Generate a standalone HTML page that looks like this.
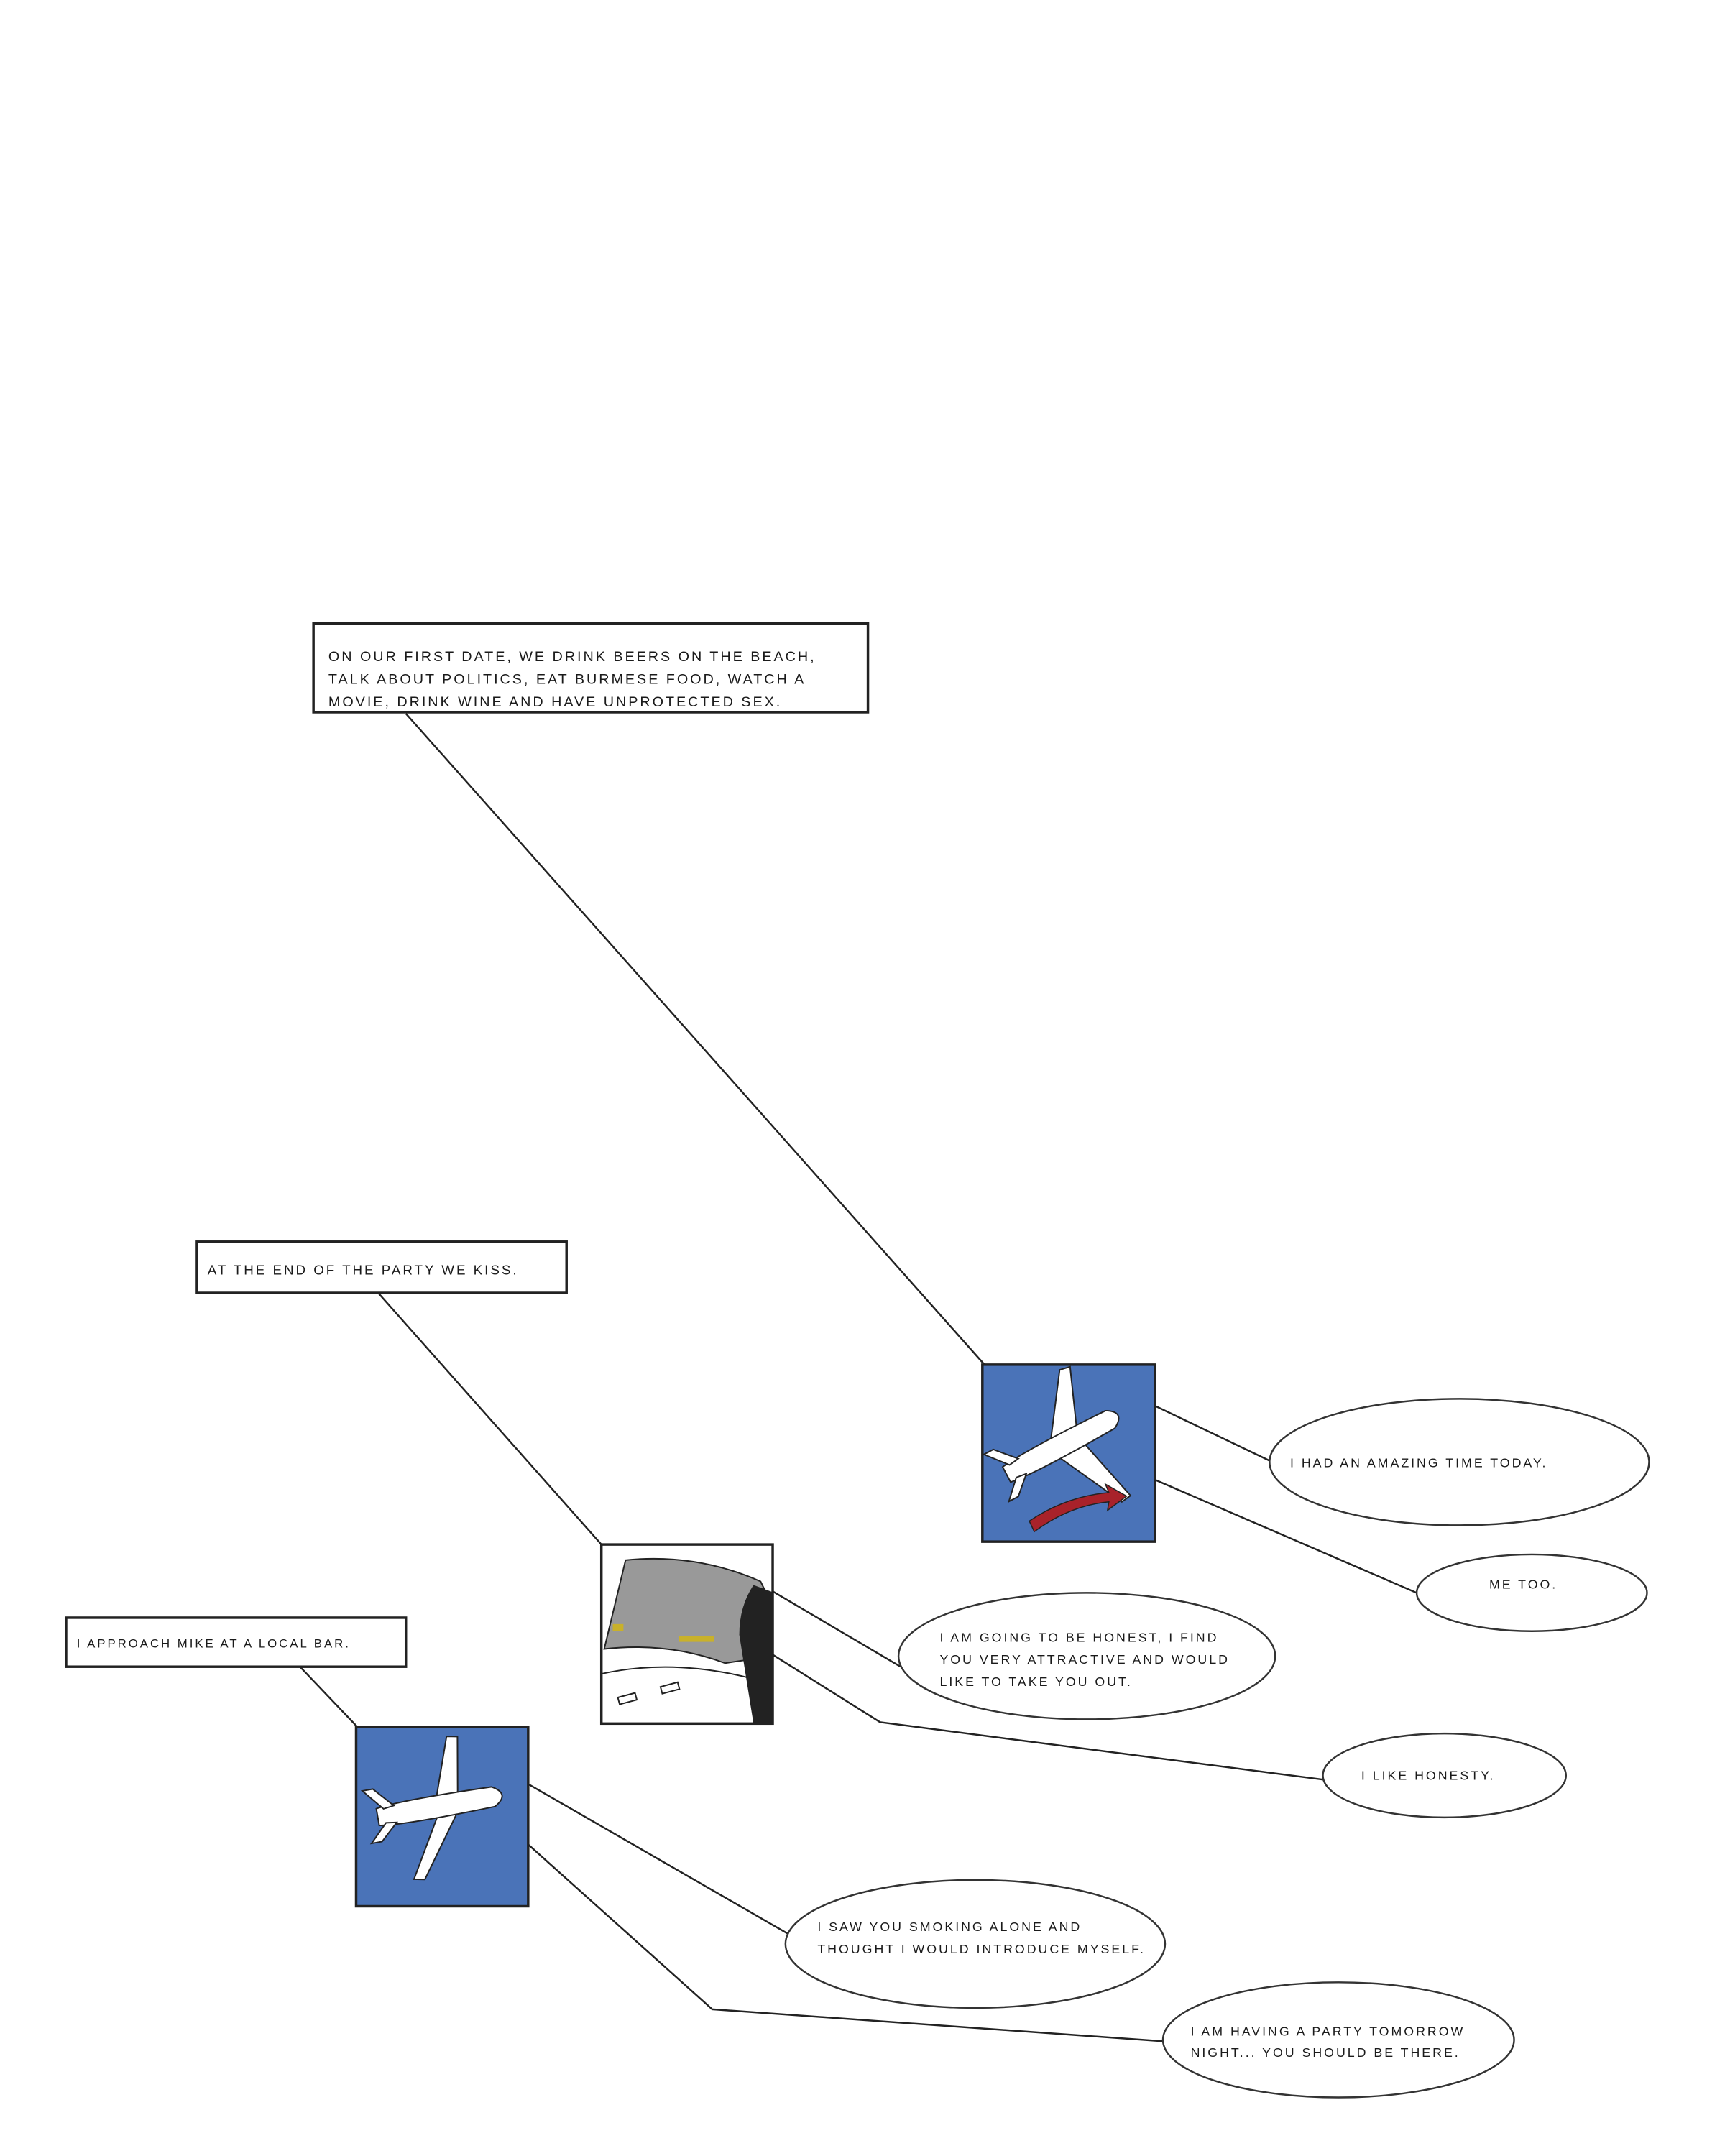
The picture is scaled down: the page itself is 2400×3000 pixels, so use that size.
<!DOCTYPE html>
<html><head><meta charset="utf-8"><style>
html,body{margin:0;padding:0;background:#fff;}
svg{display:block;}
text{font-family:"Liberation Sans",sans-serif;fill:#1a1a1a;letter-spacing:3px;}
</style></head><body>
<svg width="2400" height="3000" viewBox="0 0 2400 3000" xmlns="http://www.w3.org/2000/svg">
<g transform="scale(0.989)">
<g stroke="#222" fill="none" stroke-width="2.5">
<line x1="571" y1="1004" x2="1385" y2="1920"/>
<line x1="532" y1="1819" x2="846" y2="2173"/>
<line x1="422" y1="2345" x2="503" y2="2430"/>
<line x1="1625" y1="1978" x2="1790" y2="2057"/>
<line x1="1625" y1="2082" x2="1993" y2="2241"/>
<line x1="1087" y1="2239" x2="1267" y2="2345"/>
<polyline points="1087,2328 1238,2423 1863,2504"/>
<line x1="743" y1="2510" x2="1109" y2="2721"/>
<polyline points="743,2595 1002,2827 1637,2872"/>
</g>
<g stroke="#222" stroke-width="3.5" fill="#fff">
<rect x="441" y="877" width="780" height="125"/>
<rect x="277" y="1747" width="520" height="72"/>
<rect x="93" y="2276" width="478" height="69"/>
</g>
<text font-size="20"><tspan x="462" y="930">ON OUR FIRST DATE, WE DRINK BEERS ON THE BEACH,</tspan><tspan x="462" y="962">TALK ABOUT POLITICS, EAT BURMESE FOOD, WATCH A</tspan><tspan x="462" y="994">MOVIE, DRINK WINE AND HAVE UNPROTECTED SEX.</tspan></text>
<text font-size="19" x="292" y="1793">AT THE END OF THE PARTY WE KISS.</text>
<text font-size="17" x="108" y="2318">I APPROACH MIKE AT A LOCAL BAR.</text>
<g stroke="#333" stroke-width="2.5" fill="#fff">
<ellipse cx="2053" cy="2057" rx="267" ry="89"/>
<ellipse cx="2155" cy="2241" rx="162" ry="54"/>
<ellipse cx="1529" cy="2330" rx="265" ry="89"/>
<ellipse cx="2032" cy="2498" rx="171" ry="59"/>
<ellipse cx="1372" cy="2735" rx="267" ry="90"/>
<ellipse cx="1883" cy="2870" rx="247" ry="81"/>
</g>
<g font-size="18">
<text x="1815" y="2064">I HAD AN AMAZING TIME TODAY.</text>
<text x="2095" y="2235">ME TOO.</text>
<text x="1322" y="2310">I AM GOING TO BE HONEST, I FIND</text>
<text x="1322" y="2341">YOU VERY ATTRACTIVE AND WOULD</text>
<text x="1322" y="2372">LIKE TO TAKE YOU OUT.</text>
<text x="1915" y="2504">I LIKE HONESTY.</text>
<text x="1150" y="2717">I SAW YOU SMOKING ALONE AND</text>
<text x="1150" y="2748">THOUGHT I WOULD INTRODUCE MYSELF.</text>
<text x="1675" y="2864">I AM HAVING A PARTY TOMORROW</text>
<text x="1675" y="2894">NIGHT... YOU SHOULD BE THERE.</text>
</g>
<rect x="1382" y="1920" width="243" height="249" fill="#4a73b8" stroke="#222" stroke-width="3.5"/>
<g transform="translate(1500,2030) rotate(-28)">
<path d="M-20,-10 L40,-95 L55,-92 L20,-5Z M-20,10 L30,110 L45,108 L20,5Z" fill="#fff" stroke="#222" stroke-width="2"/>
<path d="M-95,-12 Q-60,-18 70,-14 Q95,0 70,14 Q-60,18 -95,12Z" fill="#fff" stroke="#222" stroke-width="2"/>
<path d="M-85,-10 L-110,-40 L-95,-40 L-70,-12Z M-85,10 L-110,35 L-95,35 L-70,12Z" fill="#fff" stroke="#222" stroke-width="2"/>
</g>
<path d="M1448,2140 Q1500,2105 1560,2100 L1555,2088 L1585,2105 L1558,2125 L1560,2113 Q1505,2118 1455,2155Z" fill="#a8222a" stroke="#222" stroke-width="1.5"/>
<rect x="846" y="2173" width="241" height="252" fill="#fff" stroke="#222" stroke-width="3.5"/>
<path d="M880,2195 Q980,2185 1070,2225 L1087,2260 L1087,2330 L1020,2340 Q940,2310 850,2320 Z" fill="#999" stroke="#222" stroke-width="2"/>
<path d="M846,2355 Q960,2330 1087,2370" stroke="#222" fill="none" stroke-width="2"/>
<rect x="862" y="2285" width="15" height="10" fill="#c9b12a"/><rect x="955" y="2302" width="50" height="8" fill="#c9b12a"/>
<rect x="870" y="2385" width="25" height="10" fill="none" stroke="#222" stroke-width="2" transform="rotate(-15 882 2390)"/>
<rect x="930" y="2370" width="25" height="10" fill="none" stroke="#222" stroke-width="2" transform="rotate(-15 942 2375)"/>
<path d="M1060,2230 L1087,2240 L1087,2425 L1060,2425 L1040,2300 Q1040,2260 1060,2230Z" fill="#222"/>
<rect x="501" y="2430" width="242" height="252" fill="#4a73b8" stroke="#222" stroke-width="3.5"/>
<g transform="translate(625,2540) rotate(-10)">
<path d="M-10,-10 L20,-95 L35,-92 L20,-5Z M-10,10 L-60,95 L-45,98 L20,8Z" fill="#fff" stroke="#222" stroke-width="2"/>
<path d="M-95,-12 Q-60,-18 70,-14 Q95,0 70,14 Q-60,18 -95,12Z" fill="#fff" stroke="#222" stroke-width="2"/>
<path d="M-85,-10 L-110,-40 L-95,-40 L-70,-12Z M-85,10 L-110,35 L-95,35 L-70,12Z" fill="#fff" stroke="#222" stroke-width="2"/>
</g>
</g>
</svg>
</body></html>
